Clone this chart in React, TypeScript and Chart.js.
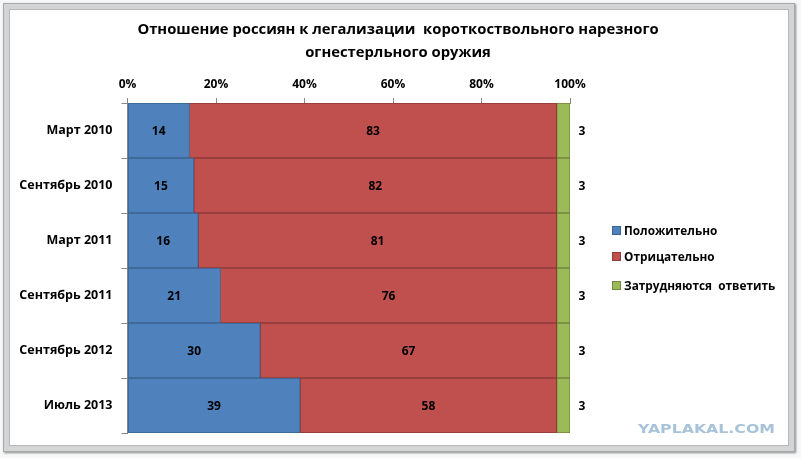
import React, { useEffect, useRef } from "react";
import { Chart, registerables } from "chart.js";

Chart.register(...registerables);

const categories = ["Март 2010", "Сентябрь 2010", "Март 2011", "Сентябрь 2011", "Сентябрь 2012", "Июль 2013"];
const positive = [14, 15, 16, 21, 30, 39];
const negative = [83, 82, 81, 76, 67, 58];
const undecided = [3, 3, 3, 3, 3, 3];
const seriesNames = ["Положительно", "Отрицательно", "Затрудняются  ответить"];
const titleLines = ["Отношение россиян к легализации  короткоствольного нарезного", "огнестерльного оружия"];
const watermark = "YAPLAKAL.COM";

const FONT = '"Open Sans", "Noto Sans", "DejaVu Sans", sans-serif';
const fills = ["#4F81BD", "#C0504D", "#9BBB59"];
const borders = ["#3A6391", "#8E3A38", "#71893F"];

const extrasPlugin = {
  id: "extras",
  afterDatasetsDraw(chart: any) {
    const ctx = chart.ctx as CanvasRenderingContext2D;
    ctx.save();
    ctx.fillStyle = "#000";
    ctx.font = `bold 12px ${FONT}`;
    ctx.textAlign = "center";
    ctx.textBaseline = "middle";
    chart.data.datasets.forEach((ds: any, di: number) => {
      const meta = chart.getDatasetMeta(di);
      meta.data.forEach((el: any, i: number) => {
        const v = ds.data[i];
        const x = di === 2 ? el.x + 12 : (el.x + el.base) / 2;
        ctx.fillText(String(v), x, el.y + 1);
      });
    });
    ctx.restore();
  },
  afterDraw(chart: any) {
    const ctx = chart.ctx as CanvasRenderingContext2D;
    ctx.save();
    // title
    ctx.fillStyle = "#000";
    ctx.font = `bold 14.8px ${FONT}`;
    ctx.textAlign = "center";
    ctx.textBaseline = "middle";
    ctx.fillText(titleLines[0], 388, 20);
    ctx.fillText(titleLines[1], 388, 43);
    // legend
    ctx.font = `bold 11.8px ${FONT}`;
    ctx.textAlign = "left";
    const ys = [220.5, 247, 276];
    chart.data.datasets.forEach((ds: any, di: number) => {
      const y = Math.round(ys[di]);
      ctx.fillStyle = ds.borderColor;
      ctx.fillRect(602, y - 5, 9, 9);
      ctx.fillStyle = ds.backgroundColor;
      ctx.fillRect(603, y - 4, 7, 7);
      ctx.fillStyle = "#000";
      ctx.fillText(ds.label, 614, y + 1);
    });
    // watermark
    ctx.font = `bold 13px "DejaVu Sans", sans-serif`;
    const w = ctx.measureText(watermark).width;
    ctx.translate(628, 423);
    ctx.scale(137 / w, 1);
    ctx.fillStyle = "#A6C3D9";
    ctx.textAlign = "left";
    ctx.textBaseline = "alphabetic";
    ctx.fillText(watermark, 0, 0);
    ctx.restore();
  },
};

export default function App() {
  const ref = useRef<HTMLCanvasElement | null>(null);
  useEffect(() => {
    if (!ref.current) return;
    const data = [positive, negative, undecided];
    const chart = new Chart(ref.current, {
      type: "bar",
      data: {
        labels: categories,
        datasets: data.map((d, i) => ({
          label: seriesNames[i],
          data: d,
          backgroundColor: fills[i],
          borderColor: borders[i],
          borderWidth: 1,
          borderSkipped: false,
          categoryPercentage: 1,
          barPercentage: 1,
        })),
      },
      options: {
        indexAxis: "y",
        animation: false,
        responsive: false,
        maintainAspectRatio: false,
        layout: { padding: { top: 60, left: 0, right: 217, bottom: 12 } },
        plugins: { legend: { display: false }, title: { display: false }, tooltip: { enabled: false } },
        scales: {
          x: {
            type: "linear",
            position: "top",
            stacked: true,
            min: 0,
            max: 100,
            ticks: {
              stepSize: 20,
              callback: (v: any) => v + "%",
              color: "#000",
              font: { family: FONT, size: 12, weight: "bold" },
              padding: 6,
            },
            grid: { drawOnChartArea: false, tickLength: 5, color: "#868686" },
            border: { color: "#868686" },
            afterFit: (s: any) => { s.height = 33; },
          },
          y: {
            type: "category",
            stacked: true,
            ticks: {
              color: "#000",
              font: { family: FONT, size: 12.5, weight: "bold" },
              padding: 9,
            },
            grid: { offset: true, drawOnChartArea: false, tickLength: 6, color: "#868686" },
            border: { color: "#868686" },
            afterFit: (s: any) => { s.width = 117.5; s.paddingTop = 0; s.paddingBottom = 0; },
          },
        },
      },
      plugins: [extrasPlugin],
    } as any);
    return () => chart.destroy();
  }, []);

  return (
    <div style={{ position: "fixed", inset: 0, background: "#f6f7f8", overflow: "hidden" }}>
      <div
        style={{
          position: "absolute",
          left: 3,
          top: 3,
          width: 792,
          height: 449,
          boxSizing: "border-box",
          border: "1px solid #a9a9a9",
          background: "#d4d4d4",
          boxShadow: "1px 1px 2px #8a8a8a",
        }}
      >
        <div
          style={{
            position: "absolute",
            left: 5,
            top: 5,
            right: 5,
            bottom: 5,
            background: "#fff",
            border: "1px solid #b8b8b8",
          }}
        />
      </div>
      <canvas ref={ref} width={777} height={435} style={{ position: "absolute", left: 10, top: 10, width: 777, height: 435 }} />
    </div>
  );
}
